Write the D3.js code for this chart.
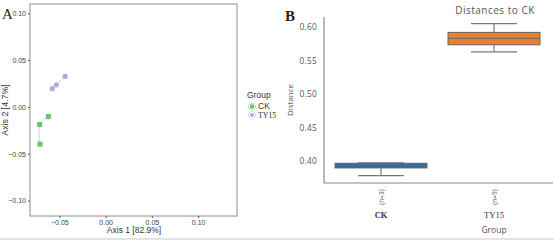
<!DOCTYPE html>
<html><head><meta charset="utf-8">
<script src="https://cdn.jsdelivr.net/npm/d3@7"></script>
<style>body{margin:0;background:#fff}svg{display:block}</style>
</head><body>
<svg id="c" width="554" height="240"></svg>
<script>
// ---- Panel A data (PCoA) ----
const groups = ["CK", "TY15"];
const ckX = [-0.0709, -0.0713, -0.0619];
const ckY = [-0.0397, -0.0188, -0.0103];
const tyX = [-0.0576, -0.0533, -0.0438];
const tyY = [0.0195, 0.0237, 0.0327];
const axTicksX = [-0.05, 0.00, 0.05, 0.10];
const axTicksY = [-0.10, -0.05, 0.00, 0.05, 0.10];
// ---- Panel B data (distances boxplot) ----
const boxCats = ["CK", "TY15"];
const boxN = [3, 9];
const boxMin = [0.378, 0.563];
const boxQ1 = [0.3895, 0.5735];
const boxMed = [0.3935, 0.583];
const boxQ3 = [0.3965, 0.592];
const boxMax = [0.397, 0.605];
const bTicksY = [0.40, 0.45, 0.50, 0.55, 0.60];

const svg = d3.select("#c");
const sans = "'Liberation Sans', Arial, sans-serif";
const serif = "'Liberation Serif', 'Times New Roman', serif";
const osans = "'Open Sans', sans-serif";

// ===== Panel A =====
const A = {l:30, r:237, t:4, b:216};
const xA = d3.scaleLinear().domain([-0.0817, 0.142]).range([A.l, A.r]);
const yA = d3.scaleLinear().domain([-0.1165, 0.110]).range([A.b, A.t]);
svg.append("rect").attr("x",A.l).attr("y",A.t).attr("width",A.r-A.l).attr("height",A.b-A.t)
  .attr("fill","#fff").attr("stroke","#a8a8a8").attr("stroke-width",1.3);
const gxA = svg.append("g").attr("transform",`translate(0,${A.b})`)
  .call(d3.axisBottom(xA).tickValues(axTicksX).tickFormat(d3.format(".2f")).tickSize(2).tickPadding(2));
const gyA = svg.append("g").attr("transform",`translate(${A.l},0)`)
  .call(d3.axisLeft(yA).tickValues(axTicksY).tickFormat(d3.format(".2f")).tickSize(2).tickPadding(2));
[gxA, gyA].forEach(g=>{
  g.select(".domain").remove();
  g.selectAll("line").attr("stroke","#555");
  g.selectAll("text").attr("font-family",sans).attr("font-size",7).attr("fill","#444");
});
svg.append("text").attr("x",134).attr("y",233).attr("text-anchor","middle")
  .attr("font-family",sans).attr("font-size",8.5).attr("fill","#333").text("Axis 1 [82.9%]");
svg.append("text").attr("transform",`translate(8,${(A.t+A.b)/2}) rotate(-90)`).attr("text-anchor","middle")
  .attr("font-family",sans).attr("font-size",8.8).attr("fill","#333").text("Axis 2 [4.7%]");
svg.append("text").attr("x",2).attr("y",19).attr("font-family",serif).attr("font-size",15).attr("fill","#222").text("A");

const ckPts = ckX.map((x,i)=>[x, ckY[i]]);
const tyPts = tyX.map((x,i)=>[x, tyY[i]]);
const line = d3.line().x(d=>xA(d[0])).y(d=>yA(d[1])).curve(d3.curveCatmullRom);
svg.append("path").attr("d",line(ckPts)).attr("fill","none").attr("stroke","#cfcfcf").attr("stroke-width",1);
svg.append("path").attr("d",line(tyPts)).attr("fill","none").attr("stroke","#cfcfcf").attr("stroke-width",1);
const green = "#66c766", purple = "#b6a6dc";
svg.selectAll(".ck").data(ckPts).join("rect").attr("x",d=>xA(d[0])-2.5).attr("y",d=>yA(d[1])-2.5)
  .attr("width",5).attr("height",5).attr("fill",green);
svg.selectAll(".ty").data(tyPts).join("circle").attr("cx",d=>xA(d[0])).attr("cy",d=>yA(d[1]))
  .attr("r",2.6).attr("fill",purple);

// Legend
svg.append("text").attr("x",247).attr("y",98).attr("font-family",sans).attr("font-size",8.5).attr("fill","#333").text("Group");
const lg = svg.append("g");
groups.forEach((g,i)=>{
  const cy = 106.5 + i*8.5;
  lg.append("circle").attr("cx",252).attr("cy",cy).attr("r",3.5).attr("fill","none")
    .attr("stroke", i===0?green:purple).attr("stroke-width",0.8).attr("stroke-dasharray","1.5,1");
  if(i===0) lg.append("rect").attr("x",250).attr("y",cy-2).attr("width",4).attr("height",4).attr("fill",green);
  else lg.append("circle").attr("cx",252).attr("cy",cy).attr("r",2).attr("fill",purple);
  lg.append("text").attr("x",258).attr("y",cy+2.8).attr("font-family", i===0?sans:serif)
    .attr("font-size", i===0?8.5:7.8).attr("fill","#333").text(g);
});

// ===== Panel B =====
const B = {l:324, r:553, t:17, b:183};
const yB = d3.scaleLinear().domain([0.367, 0.615]).range([B.b, B.t]);
const xB = d3.scaleBand().domain(boxCats).range([324.5, 550.5]).paddingInner(0.186).paddingOuter(0.093);
svg.append("line").attr("x1",B.l).attr("x2",B.l).attr("y1",B.t).attr("y2",B.b).attr("stroke","#888").attr("stroke-width",1.2);
svg.append("line").attr("x1",B.l).attr("x2",B.r).attr("y1",B.b).attr("y2",B.b).attr("stroke","#888").attr("stroke-width",1.2);
const gyB = svg.append("g").attr("transform",`translate(${B.l-6},0)`)
  .call(d3.axisLeft(yB).tickValues(bTicksY).tickFormat(d3.format(".2f")).tickSize(0).tickPadding(1));
gyB.select(".domain").remove();
gyB.selectAll("text").attr("font-family",osans).attr("font-size",8.3).attr("letter-spacing",0.3).attr("fill","#555");
svg.append("text").attr("transform",`translate(293,100) rotate(-90)`).attr("text-anchor","middle")
  .attr("font-family",osans).attr("font-size",8).attr("fill","#555").text("Distance");
svg.append("text").attr("x",495).attr("y",13.5).attr("text-anchor","middle")
  .attr("font-family",osans).attr("font-size",10).attr("letter-spacing",0.5).attr("fill","#555").text("Distances to CK");
svg.append("text").attr("x",285).attr("y",21).attr("font-family",serif).attr("font-size",15).attr("font-weight","bold").attr("fill","#222").text("B");

const colors = ["#2b6ea6", "#e8812c"];
boxCats.forEach((c,i)=>{
  const x0 = xB(c), w = xB.bandwidth(), cx = x0 + w/2;
  const g = svg.append("g");
  g.append("line").attr("x1",cx).attr("x2",cx).attr("y1",yB(boxMax[i])).attr("y2",yB(boxQ3[i])).attr("stroke","#777").attr("stroke-width",1.2);
  g.append("line").attr("x1",cx).attr("x2",cx).attr("y1",yB(boxQ1[i])).attr("y2",yB(boxMin[i])).attr("stroke","#777").attr("stroke-width",1.2);
  g.append("line").attr("x1",cx-w/4).attr("x2",cx+w/4).attr("y1",yB(boxMax[i])).attr("y2",yB(boxMax[i])).attr("stroke","#777").attr("stroke-width",1.2);
  g.append("line").attr("x1",cx-w/4).attr("x2",cx+w/4).attr("y1",yB(boxMin[i])).attr("y2",yB(boxMin[i])).attr("stroke","#777").attr("stroke-width",1.2);
  g.append("rect").attr("x",x0).attr("y",yB(boxQ3[i])).attr("width",w).attr("height",yB(boxQ1[i])-yB(boxQ3[i]))
    .attr("fill",colors[i]).attr("stroke","#666").attr("stroke-width",1);
  g.append("line").attr("x1",x0).attr("x2",x0+w).attr("y1",yB(boxMed[i])).attr("y2",yB(boxMed[i])).attr("stroke","#666").attr("stroke-width",1);
  svg.append("text").attr("transform",`translate(${cx+2.5},197) rotate(-90)`).attr("text-anchor","middle")
    .attr("font-family",osans).attr("font-size",6.5).attr("fill","#555").text(`(n=${boxN[i]})`);
  svg.append("text").attr("x",cx).attr("y",218).attr("text-anchor","middle")
    .attr("font-family",serif).attr("font-size",8.5).attr("font-weight", i===0?"bold":"normal").attr("fill","#333").text(c);
});
svg.append("text").attr("x",494).attr("y",233).attr("text-anchor","middle")
  .attr("font-family",osans).attr("font-size",8.5).attr("fill","#555").text("Group");
svg.append("rect").attr("x",0).attr("y",238).attr("width",554).attr("height",2).attr("fill","#e4e4e4");
</script>
</body></html>
